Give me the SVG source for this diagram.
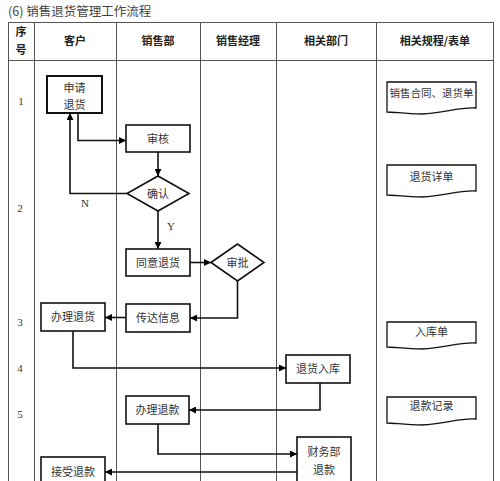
<svg xmlns="http://www.w3.org/2000/svg" width="500" height="481" viewBox="0 0 500 481">
<defs>
<marker id="ah" viewBox="0 0 10 10" refX="10" refY="5" markerWidth="7" markerHeight="7" markerUnits="userSpaceOnUse" orient="auto">
<path d="M0,0 L10,5 L0,10 Z" fill="#000"/>
</marker>
<style>
.grid{stroke:#555;stroke-width:1;fill:none}
.box{fill:#fff;stroke:#111;stroke-width:1.6}
.doc{fill:#fff;stroke:#111;stroke-width:1.3}
.t{font-family:"Noto Sans CJK SC","Noto Sans",sans-serif;font-size:11px;fill:#333;text-anchor:middle}
.h{font-family:"Noto Sans CJK SC","Noto Sans",sans-serif;font-size:11px;font-weight:bold;fill:#222;text-anchor:middle}
.n{font-family:"Liberation Serif",serif;font-size:11px;fill:#333;text-anchor:middle}
.c{fill:none;stroke:#111;stroke-width:1.6}
.ca{fill:none;stroke:#111;stroke-width:1.6;marker-end:url(#ah)}
</style>
</defs>
<rect width="500" height="481" fill="#fff"/>
<text x="8" y="16" style="font-family:'Noto Sans CJK SC',sans-serif;font-size:12.5px;fill:#444">(6) 销售退货管理工作流程</text>
<g id="table">
<path class="grid" d="M8,22.5 H494 M8,60.5 H494 M8.5,22 V481 M34.5,22 V481 M116.5,22 V481 M200.5,22 V481 M276.5,22 V481 M376.5,22 V481 M493.5,22 V481"/>
<text class="h" x="21" y="36">序</text>
<text class="h" x="21" y="54">号</text>
<text class="h" x="75" y="45">客户</text>
<text class="h" x="158" y="45">销售部</text>
<text class="h" x="238" y="45">销售经理</text>
<text class="h" x="326" y="45">相关部门</text>
<text class="h" x="435" y="45">相关规程/表单</text>
<text class="n" x="21" y="105">1</text>
<text class="n" x="20" y="212">2</text>
<text class="n" x="20" y="326">3</text>
<text class="n" x="20" y="372">4</text>
<text class="n" x="20" y="418">5</text>
</g>
<g id="connectors">
<path class="ca" d="M78,113 V140.5 H126"/>
<path class="ca" d="M127,193.5 H70 V113"/>
<text class="n" x="85" y="207">N</text>
<path class="ca" d="M158,152 V176"/>
<path class="ca" d="M158,211 V249"/>
<text class="n" x="171" y="230">Y</text>
<path class="ca" d="M190,262.5 H211"/>
<path class="ca" d="M237.5,281 V318 H190"/>
<path class="ca" d="M126,317.5 H105"/>
<path class="ca" d="M73,331 V368 H286"/>
<path class="ca" d="M320,383 V410 H189"/>
<path class="ca" d="M158,424 V454 H297"/>
<path class="ca" d="M297,472 H105"/>
</g>
<g id="n1"><rect class="box" x="47" y="76" width="55" height="37" style="stroke-width:2"/><text class="t" x="74.5" y="92">申请</text><text class="t" x="74.5" y="109">退货</text></g>
<g id="n2"><rect class="box" x="126" y="125" width="64" height="27"/><text class="t" x="158" y="142.5">审核</text></g>
<g id="n3"><polygon class="box" points="127,193.5 158,176 189,193.5 158,211"/><text class="t" x="158" y="197.5">确认</text></g>
<g id="n4"><rect class="box" x="126" y="249" width="64" height="27"/><text class="t" x="158" y="266.5">同意退货</text></g>
<g id="n5"><polygon class="box" points="211,262.5 237.5,244 264,262.5 237.5,281"/><text class="t" x="237.5" y="266.5">审批</text></g>
<g id="n6"><rect class="box" x="126" y="304" width="64" height="28"/><text class="t" x="158" y="322">传达信息</text></g>
<g id="n7"><rect class="box" x="41" y="303" width="64" height="28"/><text class="t" x="73" y="321">办理退货</text></g>
<g id="n8"><rect class="box" x="286" y="355" width="64" height="28"/><text class="t" x="318" y="373">退货入库</text></g>
<g id="n9"><rect class="box" x="126" y="396" width="63" height="28"/><text class="t" x="157.5" y="414">办理退款</text></g>
<g id="n10"><rect class="box" x="297" y="437" width="54" height="50"/><text class="t" x="324" y="456">财务部</text><text class="t" x="324" y="474">退款</text></g>
<g id="n11"><rect class="box" x="41" y="457" width="64" height="30"/><text class="t" x="73" y="476">接受退款</text></g>
<g id="d1"><path class="doc" d="M387,82 H476 V108 C458,107 445,113 422,114 C405,114 395,112 387,112 Z"/><text class="t" x="431.5" y="97" style="font-size:10.5px" textLength="84" lengthAdjust="spacingAndGlyphs">销售合同、退货单</text></g>
<g id="d2"><path class="doc" d="M387,165 H476 V191 C458,190 445,196 422,197 C405,197 395,195 387,195 Z"/><text class="t" x="431.5" y="181">退货详单</text></g>
<g id="d3"><path class="doc" d="M387,322 H476 V343 C458,342 445,348 422,349 C405,349 395,347 387,347 Z"/><text class="t" x="431.5" y="336">入库单</text></g>
<g id="d4"><path class="doc" d="M387,397 H476 V419 C458,418 445,424 422,425 C405,425 395,423 387,423 Z"/><text class="t" x="431.5" y="410">退款记录</text></g>
</svg>
